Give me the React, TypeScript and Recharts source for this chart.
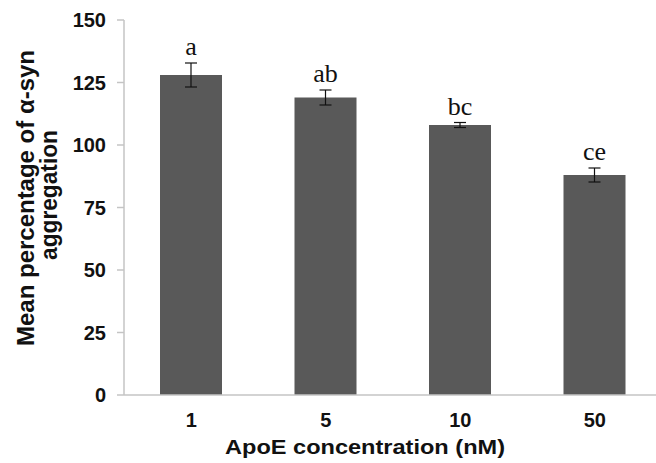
import { BarChart, Bar, XAxis, YAxis, ErrorBar, LabelList } from 'recharts';

const concentrations = ['1', '5', '10', '50'];
const meanAggregation = [128, 119, 108, 88];
const errors = [4.8, 3, 1, 2.8];
const groupLetters = ['a', 'ab', 'bc', 'ce'];
const yTicks = [0, 25, 50, 75, 100, 125, 150];

const data = concentrations.map((c, i) => ({
  conc: c,
  value: meanAggregation[i],
  err: errors[i],
  letter: groupLetters[i],
}));

const sans = '"Liberation Sans", Arial, sans-serif';
const serif = '"Liberation Serif", "Times New Roman", serif';

function YTitle() {
  return (
    <g fontFamily={sans} fontWeight="bold" fontSize={23} fill="#111">
      <text x={34} y={198} transform="rotate(-90 34 198)" textAnchor="middle" textLength={296} lengthAdjust="spacingAndGlyphs">
        Mean percentage of α-syn
      </text>
      <text x={57} y={195} transform="rotate(-90 57 195)" textAnchor="middle" textLength={130} lengthAdjust="spacingAndGlyphs">
        aggregation
      </text>
    </g>
  );
}

function XTitle() {
  return (
    <text x={365} y={454} textAnchor="middle" fontFamily={sans} fontWeight="bold" fontSize={20} fill="#111" textLength={280} lengthAdjust="spacingAndGlyphs">
      ApoE concentration (nM)
    </text>
  );
}

function LetterLabel(props: any) {
  const { x, y, width, height, index } = props;
  const d = data[index];
  const k = height / d.value;
  const top = y - d.err * k;
  return (
    <text x={x + width / 2} y={top - 8} textAnchor="middle" fontFamily={serif} fontSize={26} fill="#111">
      {d.letter}
    </text>
  );
}

export default function App() {
  return (
    <div style={{ width: 656, height: 463, overflow: 'hidden', background: '#fff' }}>
      <style>{`body{margin:0}`}</style>
      <BarChart width={662} height={463} data={data} margin={{ top: 20, right: 0, bottom: 0, left: 0 }}>
        <XAxis
          dataKey="conc"
          height={68}
          tickLine={false}
          tickSize={0}
          tickMargin={18}
          axisLine={{ stroke: '#c4c4c4', strokeWidth: 1.5 }}
          tick={{ fontFamily: sans, fontWeight: 'bold', fontSize: 20, fill: '#111' }}
          label={<XTitle />}
        />
        <YAxis
          width={124}
          domain={[0, 150]}
          ticks={yTicks}
          tickSize={7}
          tickMargin={11}
          axisLine={{ stroke: '#c4c4c4', strokeWidth: 1.5 }}
          tickLine={{ stroke: '#c4c4c4', strokeWidth: 1.5 }}
          tick={{ fontFamily: sans, fontWeight: 'bold', fontSize: 20, fill: '#111' }}
          label={<YTitle />}
        />
        <Bar dataKey="value" fill="#595959" barSize={62} isAnimationActive={false}>
          <ErrorBar dataKey="err" width={6} stroke="#111" strokeWidth={1.2} />
          <LabelList dataKey="letter" content={<LetterLabel />} />
        </Bar>
      </BarChart>
    </div>
  );
}
